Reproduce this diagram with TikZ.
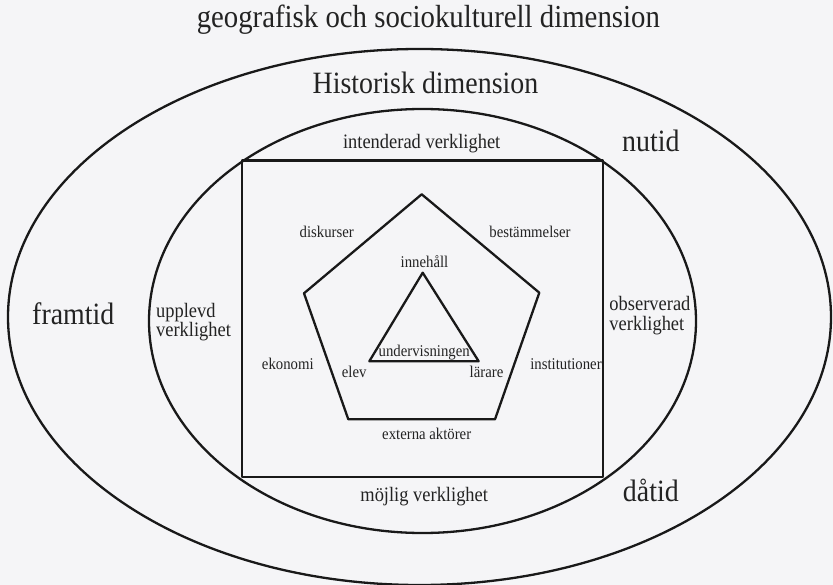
\documentclass[tikz,border=0pt]{standalone}
\usepackage{fontspec}
\setmainfont{Liberation Serif}
\definecolor{bgc}{RGB}{245,245,247}
\definecolor{linec}{RGB}{25,25,25}
\definecolor{textc}{RGB}{35,35,35}
\begin{document}
\begin{tikzpicture}[x=1pt,y=-1pt,
  shapeline/.style={draw=linec, line width=2.3pt, line join=round},
  txt/.style={anchor=base, inner sep=0pt, text=textc, xscale=0.9, transform shape},
  txtl/.style={txt, anchor=base west},
  huge/.style={font=\fontsize{32}{38}\selectfont},
  big/.style={font=\fontsize{31}{37}\selectfont},
  mid/.style={font=\fontsize{20.5}{24}\selectfont},
  small/.style={font=\fontsize{16.4}{19}\selectfont}]
\fill[bgc] (0,0) rectangle (833,585);
\useasboundingbox (0,0) rectangle (833,585);
% outer and inner ellipses
\draw[shapeline] (419.5,317) ellipse [x radius=411.5, y radius=268];
\draw[shapeline] (422.5,321) ellipse [x radius=273.5, y radius=212];
% square
\draw[shapeline] (242,160.5) rectangle (603,477);
% pentagon
\draw[shapeline] (421.7,194.3) -- (539.3,292.7) -- (495,419.3) -- (348.3,419.3) -- (304,293.3) -- cycle;
% triangle
\draw[shapeline] (422.7,272.7) -- (478.7,361.3) -- (369.3,361.3) -- cycle;
% labels
\node[txt,huge] (geo) at (428.3,27.3) {geografisk och sociokulturell dimension};
\node[txt,big] (hist) at (425.5,93.3) {Historisk dimension};
\node[txt,big] (framtid) at (73.3,325) {framtid};
\node[txt,big] (nutid) at (650.8,151.7) {nutid};
\node[txt,big] (datid) at (650.8,501.7) {dåtid};
\node[txt,mid] (intend) at (421.7,149) {intenderad verklighet};
\node[txt,mid] (mojlig) at (424.2,501) {möjlig verklighet};
\node[txtl,mid] (upp1) at (156,317.3) {upplevd};
\node[txtl,mid] (upp2) at (156,336.7) {verklighet};
\node[txtl,mid] (obs1) at (609.3,310.7) {observerad};
\node[txtl,mid] (obs2) at (609.3,330.7) {verklighet};
\node[txt,small] (disk) at (326.7,237.3) {diskurser};
\node[txt,small] (best) at (530,237.3) {bestämmelser};
\node[txt,small] (inne) at (424.5,267.3) {innehåll};
\node[txt,small] (underv) at (424.2,357) {undervisningen};
\node[txt,small] (ekon) at (287.8,369.3) {ekonomi};
\node[txt,small] (elev) at (354.2,377.3) {elev};
\node[txt,small] (larare) at (486.5,377.3) {lärare};
\node[txt,small] (inst) at (566,369.3) {institutioner};
\node[txt,small] (ext) at (426.7,439.3) {externa aktörer};
\end{tikzpicture}
\end{document}
